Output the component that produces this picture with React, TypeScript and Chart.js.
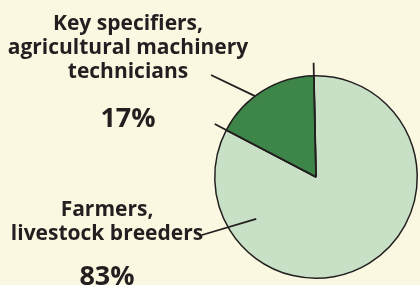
import React, { useEffect, useRef } from "react";
import { Chart, registerables } from "chart.js";

Chart.register(...registerables);

const categories = ["Farmers, livestock breeders", "Key specifiers, agricultural machinery technicians"];
const shares = [83, 17];
const percentLabels = ["83%", "17%"];
const labelLines = [["Farmers,", "livestock breeders"], ["Key specifiers,", "agricultural machinery", "technicians"]];
const sliceColors = ["#c8e1c6", "#3e8549"];

const INK = "#231f20";
const BG = "#faf8e0";

const labelPlugin = {
  id: "sliceLabels",
  afterDatasetsDraw(chart: any) {
    const ctx = chart.ctx;
    const meta = chart.getDatasetMeta(0);
    const arcs = meta.data;
    if (!arcs.length) return;
    const cx = arcs[0].x;
    const cy = arcs[0].y;
    const R = arcs[0].outerRadius;
    ctx.save();
    ctx.strokeStyle = INK;
    ctx.lineCap = "butt";
    ctx.lineWidth = 1.8;
    arcs.forEach((a: any) => {
      const ang = a.startAngle;
      ctx.beginPath();
      ctx.moveTo(cx, cy);
      ctx.lineTo(cx + Math.cos(ang) * (R + 13), cy + Math.sin(ang) * (R + 13));
      ctx.stroke();
    });
    const polar = (deg: number, rf: number) => [cx + Math.cos((deg * Math.PI) / 180) * R * rf, cy + Math.sin((deg * Math.PI) / 180) * R * rf];
    const leaders = [
      { from: [202, 235], to: polar(145, 0.72) },
      { from: [211, 75], to: polar(-127, 1.0) },
    ];
    leaders.forEach((l) => {
      ctx.beginPath();
      ctx.moveTo(l.from[0], l.from[1]);
      ctx.lineTo(l.to[0], l.to[1]);
      ctx.stroke();
    });
    ctx.fillStyle = INK;
    ctx.textAlign = "center";
    ctx.textBaseline = "alphabetic";
    const blocks = [
      { x: 107, y0: 216, pctY: 285 },
      { x: 128, y0: 30, pctY: 127 },
    ];
    blocks.forEach((b, i) => {
      ctx.font = "bold 21px 'Open Sans', 'Noto Sans', sans-serif";
      labelLines[i].forEach((t, j) => ctx.fillText(t, b.x, b.y0 + j * 24));
      ctx.font = "bold 27px 'Open Sans', 'Noto Sans', sans-serif";
      ctx.fillText(percentLabels[i], b.x, b.pctY);
    });
    ctx.restore();
  },
};

export default function App() {
  const ref = useRef<HTMLCanvasElement>(null);
  useEffect(() => {
    document.body.style.margin = "0";
    document.body.style.background = BG;
    const chart = new Chart(ref.current!, {
      type: "pie",
      data: {
        labels: categories,
        datasets: [
          {
            data: shares,
            backgroundColor: sliceColors,
            borderColor: INK,
            borderWidth: 1.5,
            hoverOffset: 0,
          },
        ],
      },
      options: {
        responsive: false,
        animation: false,
        rotation: -1.2,
        layout: { padding: { top: 75, bottom: 6, left: 214, right: 2 } },
        plugins: { legend: { display: false }, tooltip: { enabled: false } },
        events: [],
      },
      plugins: [labelPlugin],
    });
    return () => chart.destroy();
  }, []);
  return (
    <div style={{ width: 420, height: 285, background: BG }}>
      <canvas ref={ref} width={420} height={285} />
    </div>
  );
}
